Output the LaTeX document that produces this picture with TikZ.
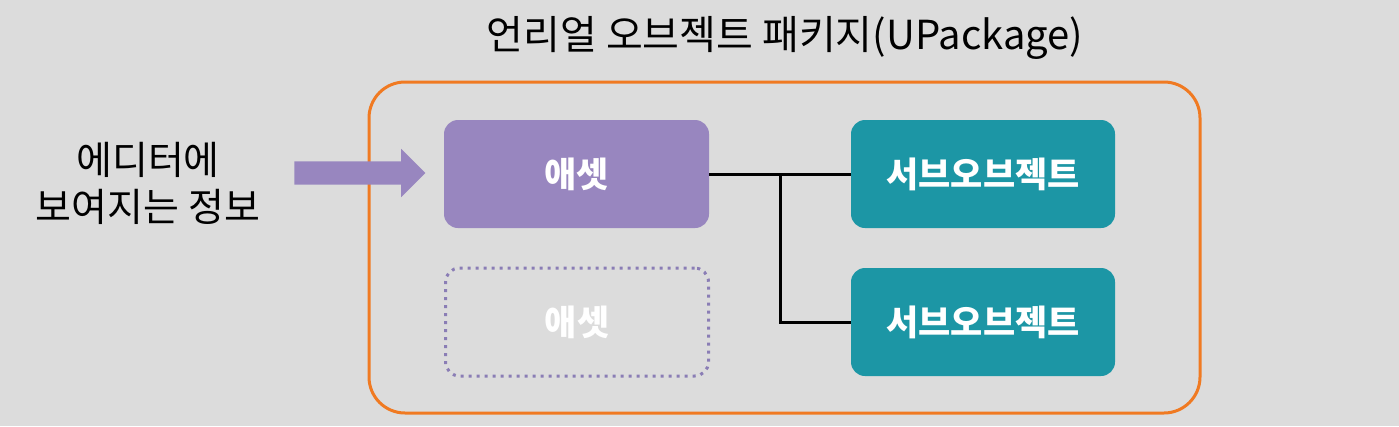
\documentclass[tikz,border=0pt]{standalone}
\usepackage{fontspec}
\setmainfont{Noto Sans CJK KR}
\usetikzlibrary{shapes.arrows}
\definecolor{bggray}{HTML}{DCDCDC}
\definecolor{pkgorange}{HTML}{F07A22}
\definecolor{assetpurple}{HTML}{9886BF}
\definecolor{ghostpurple}{HTML}{8A7DB5}
\definecolor{subteal}{HTML}{1C96A5}

\begin{document}
\begin{tikzpicture}[
  x=1pt, y=-1pt,
  title/.style={font=\fontsize{40}{46}\selectfont, inner sep=0pt},
  info/.style={font=\fontsize{39}{47}\selectfont, align=center, inner sep=0pt},
  pkgbox/.style={draw=pkgorange, line width=3pt, rounded corners=36pt, minimum width=831pt, minimum height=331pt},
  asset/.style={fill=assetpurple, rounded corners=14pt, minimum width=265pt, minimum height=108pt, text=white, font=\fontsize{35}{40}\selectfont\bfseries},
  ghost/.style={draw=ghostpurple, line width=3pt, dash pattern=on 3pt off 5pt, rounded corners=14pt, minimum width=263pt, minimum height=108pt, text=white, font=\fontsize{35}{40}\selectfont\bfseries},
  subobj/.style={fill=subteal, rounded corners=14pt, minimum width=264pt, minimum height=108pt, text=white, font=\fontsize{35}{40}\selectfont\bfseries},
  fatarr/.style={single arrow, fill=assetpurple, inner xsep=0pt, inner ysep=11.5pt, minimum height=131pt, single arrow head extend=12.5pt, single arrow tip angle=90},
  link/.style={line width=3pt, black}
]
  % canvas
  \fill[bggray] (0,0) rectangle (1399,426);
  \useasboundingbox (0,0) rectangle (1399,426);

  % package frame and title
  \node[title] (ttl) at (785,38) {언리얼 오브젝트 패키지(UPackage)};
  \node[pkgbox] (pkg) at (784.5,247.5) {};

  % left label and arrow
  \node[info] (edinfo) at (148,183) {에디터에\\보여지는 정보};
  \node[fatarr] (arr) at (354,173) {};

  % assets
  \node[asset] (asset) at (576.5,174) {애셋};
  \node[ghost] (ghost) at (577,322) {애셋};

  % sub objects
  \node[subobj] (sub1) at (983,174) {서브오브젝트};
  \node[subobj] (sub2) at (983,322) {서브오브젝트};

  % links
  \coordinate (jn) at (780,174);
  \draw[link] (asset.east) -- (sub1.west);
  \draw[link] (jn) |- (sub2.west);
\end{tikzpicture}
\end{document}
